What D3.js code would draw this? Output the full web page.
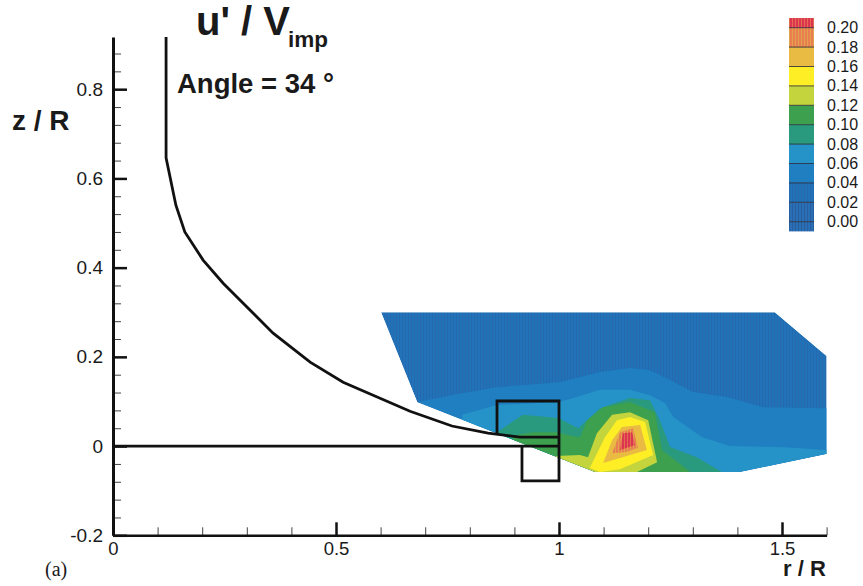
<!DOCTYPE html>
<html lang="en">
<head>
<meta charset="UTF-8">
<title>u' / Vimp contour</title>
<script src="https://cdnjs.cloudflare.com/ajax/libs/d3/7.8.5/d3.min.js"></script>
<style>
    html, body { margin: 0; padding: 0; background: #fff; }
    svg { display: block; }
    text { font-family: "Liberation Sans", Arial, sans-serif; fill: #1a1a1a; }
    .bold { font-weight: bold; }
</style>
</head>
<body>
<svg id="chart" width="863" height="586"></svg>
<script>
    // axis ticks
    const rMajor = [0, 0.5, 1, 1.5];
    const rMinor = [0.1, 0.2, 0.3, 0.4, 0.6, 0.7, 0.8, 0.9, 1.1, 1.2, 1.3, 1.4, 1.6];
    const rLabels = ["0", "0.5", "1", "1.5"];
    const zMajor = [-0.2, 0, 0.2, 0.4, 0.6, 0.8];
    const zMinor = [-0.16, -0.12, -0.08, -0.04, 0.04, 0.08, 0.12, 0.16, 0.24, 0.28, 0.32, 0.36,
                    0.44, 0.48, 0.52, 0.56, 0.64, 0.68, 0.72, 0.76, 0.84, 0.88];
    const zLabels = ["-0.2", "0", "0.2", "0.4", "0.6", "0.8"];

    // colour bar, low to high
    const levels = [0, 0.02, 0.04, 0.06, 0.08, 0.10, 0.12, 0.14, 0.16, 0.18, 0.20];
    const levelColors = ["#2a6bae", "#1f6cb3", "#1f7fc0", "#2593c8", "#2a9a7e", "#3da04f",
                         "#c4d43c", "#fdee26", "#e9bb42", "#e97f50", "#d8304d"];

    // wall profile and measurement boxes, [r, z]
    const wall = [[0.119, 0.917], [0.119, 0.646], [0.141, 0.540], [0.161, 0.480], [0.202, 0.417],
                  [0.247, 0.365], [0.359, 0.253], [0.442, 0.188], [0.516, 0.143], [0.666, 0.078],
                  [0.760, 0.045], [0.841, 0.029], [0.913, 0.020], [1.0, 0.020]];
    const floor = [[0, 0], [1.0, 0]];
    const box = [[0.861, 0.029], [0.861, 0.101], [1.0, 0.101], [1.0, -0.078], [0.917, -0.078], [0.917, 0]];

    // measured region
    const domainEdge = [[0.601, 0.300], [1.484, 0.300], [1.6, 0.202], [1.6, -0.018],
                        [1.406, -0.058], [1.081, -0.058], [0.682, 0.099]];

    // filled contours, each one clipped to domainEdge
    const band04 = [[0.682, 0.099], [0.785, 0.119], [0.861, 0.132], [1.002, 0.143], [1.092, 0.166],
                    [1.159, 0.175], [1.204, 0.170], [1.249, 0.148], [1.300, 0.121], [1.377, 0.110],
                    [1.457, 0.087], [1.6, 0.085], [1.6, -0.018], [1.406, -0.058], [1.081, -0.09], [0.68, 0.05]];
    const band06 = [[0.783, 0.070], [0.861, 0.092], [1.002, 0.099], [1.092, 0.126], [1.159, 0.126],
                    [1.204, 0.114], [1.238, 0.096], [1.256, 0.065], [1.321, 0.020], [1.383, 0],
                    [1.496, -0.002], [1.6, -0.009], [1.6, -0.018], [1.406, -0.058], [1.081, -0.09], [0.783, 0.04]];
    const band08 = [[0.861, 0.031], [0.919, 0.070], [0.998, 0.063], [1.043, 0.040], [1.092, 0.085],
                    [1.159, 0.108], [1.204, 0.103], [1.226, 0.058], [1.249, -0.002], [1.309, -0.025],
                    [1.365, -0.058], [1.081, -0.09], [0.861, 0]];
    const band10 = [[0.906, 0.025], [0.942, 0.031], [0.998, 0.031], [1.018, 0.025], [1.047, 0.020],
                    [1.063, 0.058], [1.099, 0.087], [1.159, 0.099], [1.215, 0.076], [1.231, -0.009],
                    [1.294, -0.058], [1.081, -0.09], [0.88, 0]];
    const band12 = [[0.993, -0.022], [1.047, -0.020], [1.065, -0.025], [1.085, 0.029], [1.119, 0.070],
                    [1.159, 0.076], [1.200, 0.058], [1.220, -0.036], [1.175, -0.058], [1.081, -0.09], [0.99, -0.06]];
    const band14 = [[1.069, -0.049], [1.103, 0.020], [1.130, 0.058], [1.159, 0.065], [1.193, 0.054],
                    [1.211, -0.020], [1.137, -0.052], [1.092, -0.058]];
    const band16 = [[1.099, -0.038], [1.119, 0.013], [1.141, 0.043], [1.182, 0.047], [1.197, -0.009], [1.137, -0.027]];
    const band18 = [[1.119, -0.016], [1.137, 0.031], [1.166, 0.040], [1.177, -0.004], [1.152, -0.013]];
    const band20 = [[1.137, -0.009], [1.143, 0.029], [1.164, 0.031], [1.170, 0.002]];

    const svg = d3.select("#chart");
    const x = d3.scaleLinear().domain([0, 1.6]).range([113, 826.6]);
    const y = d3.scaleLinear().domain([-0.2, 0.917]).range([535.3, 37]);
    const line = d3.line().x(d => x(d[0])).y(d => y(d[1]));

    // striped fills, the print shows a fine vertical grid in some bands
    const defs = svg.append("defs");
    function stripes(id, base, stripe) {
        const p = defs.append("pattern").attr("id", id).attr("patternUnits", "userSpaceOnUse")
            .attr("width", 3).attr("height", 3);
        p.append("rect").attr("width", 3).attr("height", 3).attr("fill", base);
        p.append("rect").attr("width", 1).attr("height", 3).attr("fill", stripe);
        return `url(#${id})`;
    }
    const fillDark = stripes("s0", "#2172b8", "#256aac");
    const fillDark2 = stripes("s1", "#2a6fb5", "#285f9f");
    const fill18 = stripes("s18", "#e97f50", "#e2a24c");
    const fill20 = stripes("s20", "#dc3550", "#e46a52");

    defs.append("clipPath").attr("id", "domainClip")
        .append("path").attr("d", line(domainEdge) + "Z");

    // contours
    const field = svg.append("g").attr("clip-path", "url(#domainClip)");
    const bands = [band04, band06, band08, band10, band12, band14, band16, band18, band20];
    field.append("path").attr("d", line(domainEdge) + "Z").attr("fill", fillDark);
    field.selectAll("path.band").data(bands).join("path")
        .attr("class", "band")
        .attr("d", d => line(d) + "Z")
        .attr("fill", (d, i) => i == 7 ? fill18 : i == 8 ? fill20 : levelColors[i + 2]);

    // axes
    const yMinorAxis = d3.axisRight(y).tickValues(zMinor).tickSize(8).tickSizeOuter(0).tickFormat("");
    const yAxis = d3.axisRight(y).tickValues(zMajor).tickSize(14).tickSizeOuter(0)
        .tickFormat((d, i) => zLabels[i]);
    const xMinorAxis = d3.axisTop(x).tickValues(rMinor).tickSize(8).tickSizeOuter(0).tickFormat("");
    const xAxis = d3.axisTop(x).tickValues(rMajor).tickSize(13).tickSizeOuter(0)
        .tickFormat((d, i) => rLabels[i]);

    const gy0 = svg.append("g").attr("transform", `translate(${x(0)},0)`).call(yMinorAxis);
    const gx0 = svg.append("g").attr("transform", `translate(0,${y(-0.2)})`).call(xMinorAxis);
    const gy = svg.append("g").attr("transform", `translate(${x(0)},0)`).call(yAxis);
    const gx = svg.append("g").attr("transform", `translate(0,${y(-0.2)})`).call(xAxis);

    [gy0, gx0].forEach(g => {
        g.selectAll(".tick line").attr("stroke", "#444").attr("stroke-width", 1);
        g.select(".domain").remove();
    });
    gy.select(".domain").attr("stroke", "#111").attr("stroke-width", 3);
    gx.select(".domain").attr("stroke", "#111").attr("stroke-width", 2.5);
    gy.selectAll(".tick line").attr("stroke", "#111").attr("stroke-width", 2.5);
    gx.selectAll(".tick line").attr("stroke", "#111").attr("stroke-width", 2.5);
    gy.selectAll(".tick text").attr("x", -10).attr("text-anchor", "end")
        .attr("font-size", 19).attr("fill", "#1a1a1a");
    gx.selectAll(".tick text").attr("y", 19.5).attr("dy", 0)
        .attr("font-size", 18.5).attr("fill", "#1a1a1a");

    // wall lines
    [wall, floor, box].forEach(d => {
        svg.append("path").attr("d", line(d)).attr("fill", "none")
            .attr("stroke", "#111").attr("stroke-width", 2.8);
    });

    // colour bar
    const legendY = d3.scaleLinear().domain([0, 0.20]).range([221.7, 27.7]);
    const legend = svg.append("g");
    legend.selectAll("rect").data(levels).join("rect")
        .attr("x", 789).attr("width", 25)
        .attr("y", d => d == 0.20 ? legendY(0.21) : legendY(d + 0.02))
        .attr("height", d => d == 0.20 ? legendY(0.20) - legendY(0.21) : legendY(d) - legendY(d + 0.02))
        .attr("fill", (d, i) => i == 0 ? fillDark2 : i == 1 ? fillDark : i == 9 ? fill18 : i == 10 ? fill20 : levelColors[i]);
    legend.append("rect").attr("x", 789).attr("width", 25)
        .attr("y", legendY(0)).attr("height", legendY(-0.01) - legendY(0)).attr("fill", fillDark2);
    legend.selectAll("line").data(levels).join("line")
        .attr("x1", 789).attr("x2", 814)
        .attr("y1", d => legendY(d)).attr("y2", d => legendY(d))
        .attr("stroke", "#223").attr("stroke-width", 0.8);
    legend.selectAll("text").data(levels).join("text")
        .attr("x", 827).attr("y", d => legendY(d) + 5.5)
        .attr("font-size", 16)
        .text(d => d3.format(".2f")(d));

    // titles
    svg.append("text").attr("class", "bold").attr("x", 196).attr("y", 35).attr("font-size", 40).text("u' / V");
    svg.append("text").attr("class", "bold").attr("x", 288).attr("y", 47).attr("font-size", 22.5).text("imp");
    svg.append("text").attr("class", "bold").attr("x", 177).attr("y", 93).attr("font-size", 27.5).text("Angle = 34 °");
    svg.append("text").attr("class", "bold").attr("x", 12).attr("y", 130).attr("font-size", 28).text("z / R");
    svg.append("text").attr("class", "bold").attr("x", 783).attr("y", 576).attr("font-size", 22).text("r / R");
    svg.append("text").attr("x", 45).attr("y", 576).attr("font-size", 20)
        .style("font-family", "'Liberation Serif', serif").text("(a)");
</script>
</body>
</html>
